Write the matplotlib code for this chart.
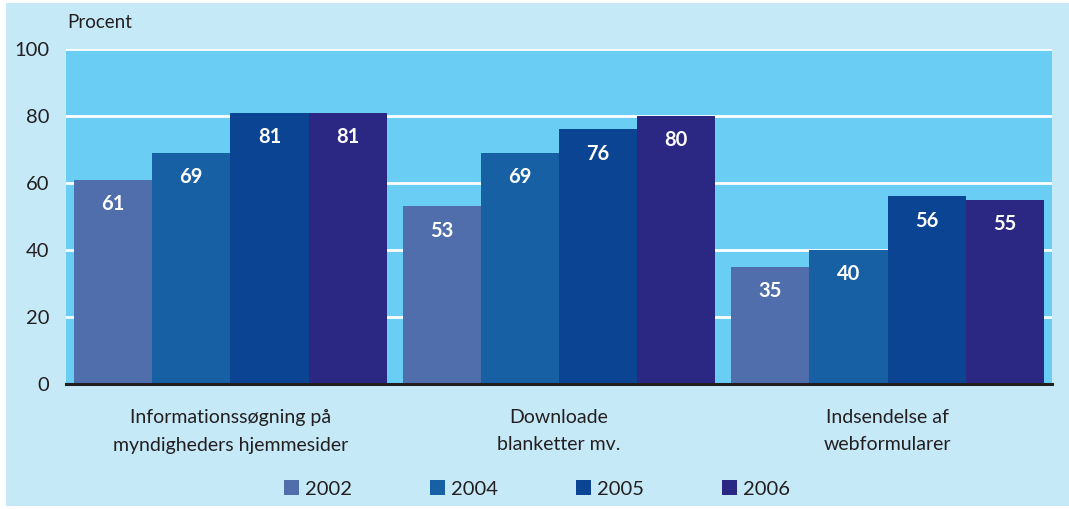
import numpy as np
import matplotlib.pyplot as plt
from matplotlib.patches import Rectangle

plt.rcParams['font.family'] = ['Lato', 'DejaVu Sans']

categories = ["Informationssøgning på\nmyndigheders hjemmesider",
              "Downloade\nblanketter mv.",
              "Indsendelse af\nwebformularer"]
years = ["2002", "2004", "2005", "2006"]
v2002 = [61, 53, 35]
v2004 = [69, 69, 40]
v2005 = [81, 76, 56]
v2006 = [81, 80, 55]
yticks = [0, 20, 40, 60, 80, 100]

series = [v2002, v2004, v2005, v2006]
colors = ["#4f6eab", "#1860a4", "#0b4492", "#2b2884"]
txt = "#231f20"

fig = plt.figure(figsize=(10.69, 5.09), dpi=100, facecolor="white")
# light blue panel behind everything
fig.patches.append(Rectangle((6/1069, 3/509), 1 - 6/1069, 503/509,
                             transform=fig.transFigure, facecolor="#c6e9f8",
                             edgecolor="none", zorder=-10))

ax = fig.add_axes([66/1069, 1 - 384/509, 986/1069, 335/509])
ax.set_zorder(1)
ax.set_facecolor("#6acef4")

x = np.arange(len(categories))
w = 0.238
handles = []
for i, (vals, c) in enumerate(zip(series, colors)):
    pos = x + (i - 1.5) * w
    b = ax.bar(pos, vals, width=w, color=c, zorder=3, label=years[i])
    handles.append(b)
    for px, v in zip(pos, vals):
        ax.text(px, v - 7.3, str(v), ha="center", va="center", color="white",
                fontsize=14.5, fontweight="bold", zorder=4)

ax.set_xlim(-0.5, 2.5)
ax.set_ylim(0, 100)
ax.set_yticks(yticks)
ax.set_yticklabels([str(t) for t in yticks], fontsize=14.5, color=txt)
ax.set_xticks(x)
ax.set_xticklabels(categories, fontsize=14, color=txt, linespacing=1.75)
ax.tick_params(axis="both", length=0)
ax.tick_params(axis="y", pad=12)
ax.tick_params(axis="x", pad=18)

for t in yticks[1:]:
    ax.axhline(t, color="white", linewidth=2, zorder=2)
for s in ["top", "right", "left"]:
    ax.spines[s].set_visible(False)
ax.spines["bottom"].set_color("#231f20")
ax.spines["bottom"].set_linewidth(2.2)
ax.spines["bottom"].set_zorder(5)

fig.text(67/1069, 1 - 22/509, "Procent", fontsize=13.5, color=txt, va="center", ha="left")

fig.legend(handles=handles, labels=years, loc="center", ncol=4,
           bbox_to_anchor=(537/1069, 1 - 489/509), frameon=False,
           fontsize=14.5, handlelength=0.72, handleheight=0.72,
           handletextpad=0.3, columnspacing=3.9, labelcolor=txt)

fig.savefig("out.png", dpi=100, facecolor=fig.get_facecolor())
